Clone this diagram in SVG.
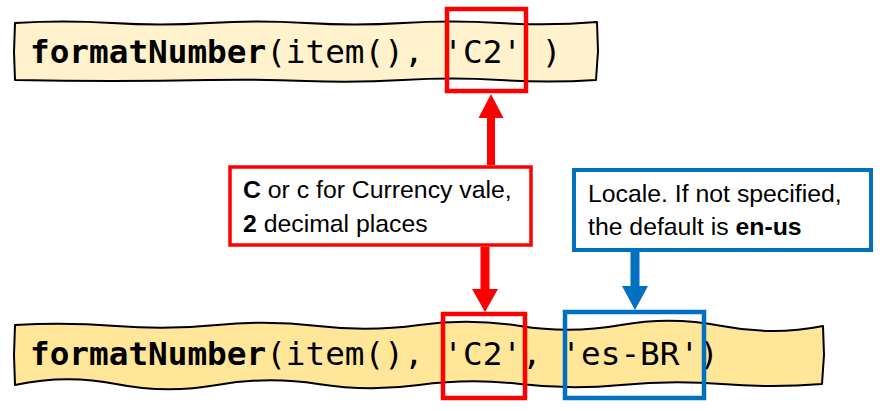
<svg xmlns="http://www.w3.org/2000/svg" width="885" height="411" viewBox="0 0 885 411">
<style>
.bar{stroke:#000;stroke-width:2;stroke-linejoin:round}
.code{font-family:"DejaVu Sans Mono",monospace;font-size:32.7px;fill:#000}
.b{font-weight:bold}
.note{font-family:"Liberation Sans",Arial,sans-serif;font-size:24.8px;fill:#000}
.red{fill:none;stroke:#FF0000;stroke-width:4.5}
.blue{fill:none;stroke:#0070C0;stroke-width:4.5}
</style>
<rect width="885" height="411" fill="#fff"/>
<g id="code-top">
<path class="bar" fill="#FFF2CC" d="M15,23 Q63,20 112,23 T209,23 T306,23 T403,23 T500,23 T597,22 L598,51 L596,80 Q548,83 500,80 T403,80 T306,81 T209,80 T112,81 T15,80 L14,52 Z"/>
<text class="code" x="30" y="63"><tspan class="b">formatNumber</tspan>(item(), 'C2' )</text>
</g>
<g id="code-bottom">
<path class="bar" fill="#FFE699" d="M15,325 Q65,322 116,326 T217,325 T318,326 T419,325 T520,326 T621,325 T722,326 T823,326 L824,355 L822,384 Q772,388 722,384 T621,385 T520,384 T419,385 T318,384 T217,385 T116,384 T15,385 L14,355 Z"/>
<text class="code" x="30" y="365"><tspan class="b">formatNumber</tspan>(item(), 'C2', 'es-BR')</text>
</g>
<g id="highlight-c2-top"><rect class="red" x="447" y="9" width="79" height="82"/></g>
<g id="highlight-c2-bottom"><rect class="red" x="443" y="314" width="82" height="84"/></g>
<g id="highlight-locale"><rect class="blue" x="565" y="312" width="139" height="86"/></g>
<g id="note-c2">
<rect x="230" y="167" width="301" height="78" fill="#fff" stroke="#FF0000" stroke-width="3.5"/>
<text class="note" x="243" y="198"><tspan font-weight="bold">C</tspan> or c for Currency vale,</text>
<text class="note" x="243" y="232"><tspan font-weight="bold">2</tspan> decimal places</text>
</g>
<g id="note-locale">
<rect x="574" y="170" width="297" height="80" fill="#fff" stroke="#0070C0" stroke-width="4"/>
<text class="note" x="588" y="202">Locale. If not specified,</text>
<text class="note" x="588" y="235">the default is <tspan font-weight="bold">en-us</tspan></text>
</g>
<g id="connectors">
<polygon fill="#FF0000" points="487,165 495,165 495,118 503.5,118 491,94 478.5,118 487,118"/>
<polygon fill="#FF0000" points="480.5,247 489.5,247 489.5,289 498,289 485,312 472,289 480.5,289"/>
<polygon fill="#0070C0" points="630.5,252 639.5,252 639.5,286 648,286 635,310 622,286 630.5,286"/>
</g>
</svg>
